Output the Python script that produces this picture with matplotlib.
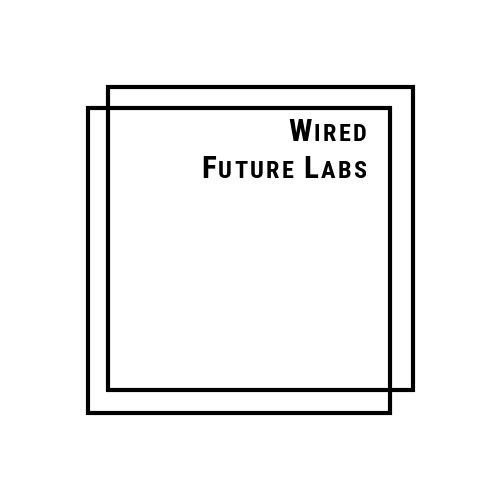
import matplotlib
matplotlib.use("Agg")
import matplotlib.pyplot as plt
from matplotlib.patches import Rectangle
from matplotlib.offsetbox import TextArea, HPacker, VPacker, AnnotationBbox
from matplotlib import font_manager

# frame squares: (left, top, right, bottom) in pixel units
square_back = [108, 87, 413, 390]
square_front = [88, 108, 390, 413]

# title lines, written as small caps: (big initial, rest) pairs per word
title_lines = [
    [("W", "IRED")],
    [("F", "UTURE"), ("L", "ABS")],
]

names = {f.name for f in font_manager.fontManager.ttflist}
family = "DejaVu Sans"
for cand in ["Liberation Sans Narrow", "DejaVu Sans Condensed", "Roboto Condensed"]:
    if cand in names:
        family = cand
        break

fig = plt.figure(figsize=(5, 5), dpi=100)
ax = fig.add_axes([0, 0, 1, 1])
ax.set_xlim(0, 500)
ax.set_ylim(500, 0)
ax.axis("off")

for sq in (square_back, square_front):
    x0, y0, x1, y1 = sq
    ax.add_patch(Rectangle((x0, y0), x1 - x0, y1 - y0, fill=False,
                           edgecolor="black", linewidth=3.0, joinstyle="miter"))

big, small = 22.5, 17.5


def letter(ch, size):
    return TextArea(ch, textprops=dict(size=size, family=family, weight="bold"))


rows = []
for words in title_lines:
    parts = []
    for i, (cap, rest) in enumerate(words):
        if i > 0:
            parts.append(letter(" ", small))
        parts.append(letter(cap, big))
        for ch in rest:
            parts.append(letter(ch, small))
    rows.append(HPacker(children=parts, align="baseline", pad=0, sep=1.6))

block = VPacker(children=rows, align="right", pad=0, sep=5)
ab = AnnotationBbox(block, (366, 117), xycoords="data", box_alignment=(1, 1),
                    frameon=False, pad=0)
ax.add_artist(ab)

fig.savefig("out.png", dpi=100, facecolor="white")
